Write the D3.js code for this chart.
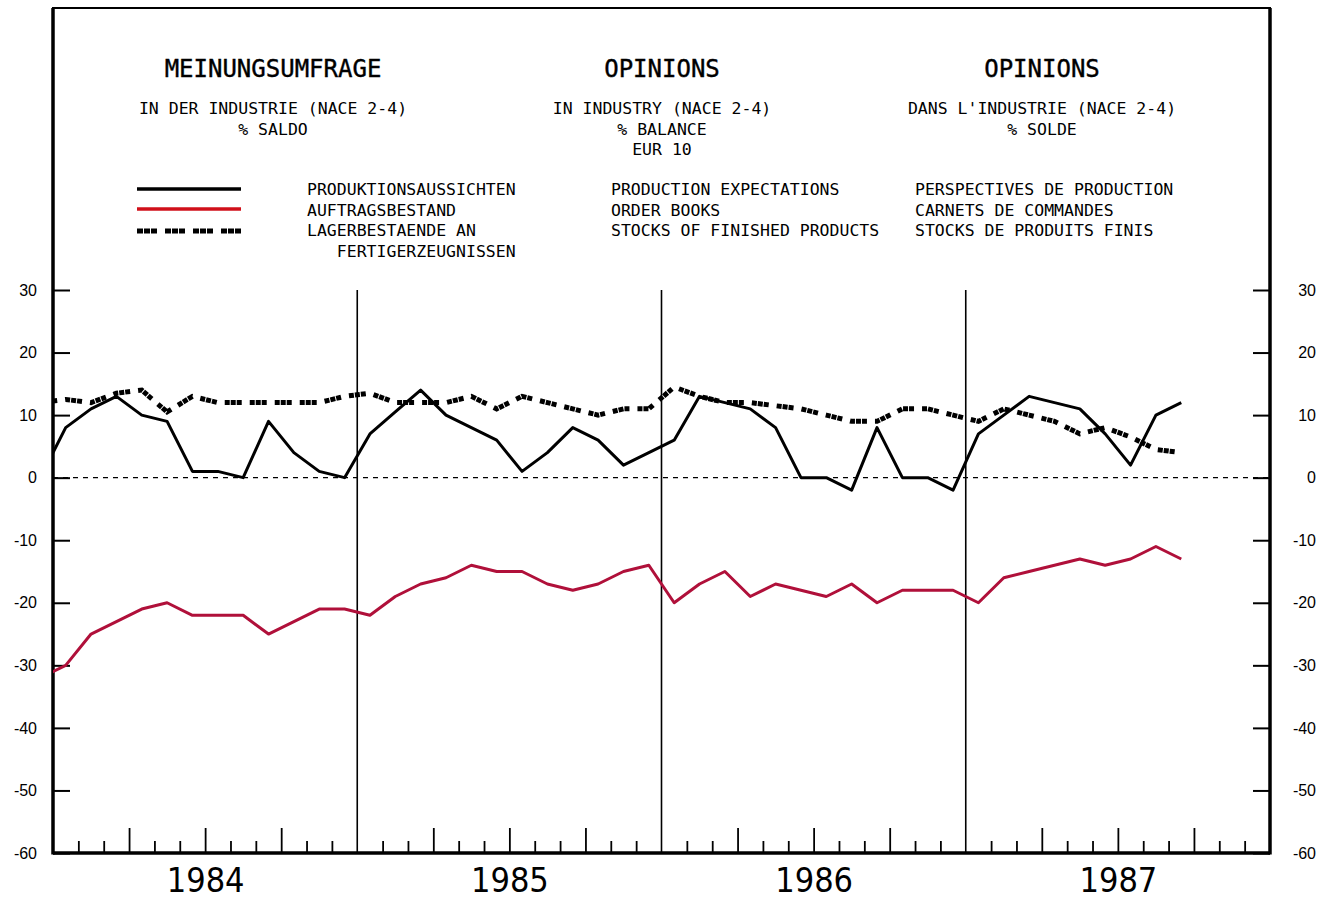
<!DOCTYPE html>
<html>
<head>
<meta charset="utf-8">
<script src="https://cdn.jsdelivr.net/npm/d3@7"></script>
<style>
body { margin: 0; background: #fff; }
.mono { font-family: "DejaVu Sans Mono", monospace; fill: #000; }
.tick text { font-family: "Liberation Sans", "DejaVu Sans", sans-serif; font-size: 16px; fill: #000; }
</style>
</head>
<body>
<div id="chart"></div>
<script>
// month index 0 = Dec 1983, values are monthly balances (%)
var years = ["1984", "1985", "1986", "1987"];
var yTicks = [30, 20, 10, 0, -10, -20, -30, -40, -50, -60];

var production = [0,
  8, 11, 13, 10, 9, 1, 1, 0, 9, 4, 1, 0,
  7, 10.5, 14, 10, 8, 6, 1, 4, 8, 6, 2, 4,
  6, 13, 12, 11, 8, 0, 0, -2, 8, 0, 0, -2,
  7, 10, 13, 12, 11, 7, 2, 10, 12];
var orderBooks = [-32,
  -30, -25, -23, -21, -20, -22, -22, -22, -25, -23, -21, -21,
  -22, -19, -17, -16, -14, -15, -15, -17, -18, -17, -15, -14,
  -20, -17, -15, -19, -17, -18, -19, -17, -20, -18, -18, -18,
  -20, -16, -15, -14, -13, -14, -13, -11, -13];
var stocks = [12,
  12.5, 12, 13.5, 14, 10.5, 13, 12, 12, 12, 12, 12, 13,
  13.5, 12, 12, 12, 13, 11, 13, 12, 11, 10, 11, 11,
  14.5, 13, 12, 12, 11.5, 11, 10, 9, 9, 11, 11, 10,
  9, 11, 10, 9, 7, 8, 6.5, 4.5, 4];

var titles = ["MEINUNGSUMFRAGE", "OPINIONS", "OPINIONS"];
var subtitles = [
  ["IN DER INDUSTRIE (NACE 2-4)", "% SALDO"],
  ["IN INDUSTRY (NACE 2-4)", "% BALANCE", "EUR 10"],
  ["DANS L'INDUSTRIE (NACE 2-4)", "% SOLDE"]];
var legendDe = ["PRODUKTIONSAUSSICHTEN", "AUFTRAGSBESTAND", "LAGERBESTAENDE AN", "   FERTIGERZEUGNISSEN"];
var legendEn = ["PRODUCTION EXPECTATIONS", "ORDER BOOKS", "STOCKS OF FINISHED PRODUCTS"];
var legendFr = ["PERSPECTIVES DE PRODUCTION", "CARNETS DE COMMANDES", "STOCKS DE PRODUITS FINIS"];

var W = 1328, H = 899;
var plotLeft = 53, plotRight = 1270, plotTop = 290, plotBottom = 853, frameTop = 8;
var redColor = "#b0103a";
var stockDash = "5,1,5,1,5,8";

var svg = d3.select("#chart").append("svg")
    .attr("width", W)
    .attr("height", H);

svg.append("rect").attr("width", W).attr("height", H).attr("fill", "#fff");

// months since Jan 1984
var x = d3.scaleLinear().domain([0, 48]).range([plotLeft, plotRight]);
var y = d3.scaleLinear().domain([-60, 30]).range([plotBottom, plotTop]);

// point i of the series sits in the middle of month (i - 1)
function mx(i) { return x(i - 0.5); }

// header texts
var colCenters = [273, 662, 1042];
titles.forEach(function(t, i) {
  svg.append("text").attr("class", "mono")
    .attr("x", colCenters[i]).attr("y", 77)
    .attr("text-anchor", "middle")
    .style("font-size", "24px")
    .style("stroke", "#000").style("stroke-width", "0.4")
    .text(t);
  subtitles[i].forEach(function(s, j) {
    svg.append("text").attr("class", "mono")
      .attr("x", colCenters[i]).attr("y", 114 + j * 20.5)
      .attr("text-anchor", "middle")
      .style("font-size", "16.5px")
      .style("white-space", "pre")
      .text(s);
  });
});

// legend
var legRows = [189, 209, 230];
svg.append("line").attr("x1", 137).attr("x2", 241).attr("y1", legRows[0]).attr("y2", legRows[0])
  .attr("stroke", "#000").attr("stroke-width", 3.5);
svg.append("line").attr("x1", 137).attr("x2", 241).attr("y1", legRows[1]).attr("y2", legRows[1])
  .attr("stroke", "#d0101a").attr("stroke-width", 3.5);
svg.append("line").attr("x1", 137).attr("x2", 241).attr("y1", legRows[2] + 1).attr("y2", legRows[2] + 1)
  .attr("stroke", "#000").attr("stroke-width", 5).attr("stroke-dasharray", "6,1,6,1,6,8");

function legendColumn(lines, x0) {
  lines.forEach(function(s, j) {
    svg.append("text").attr("class", "mono")
      .attr("x", x0).attr("y", 195 + j * 20.5)
      .style("font-size", "16.5px")
      .style("white-space", "pre")
      .text(s);
  });
}
legendColumn(legendDe, 307);
legendColumn(legendEn, 611);
legendColumn(legendFr, 915);

// frame
svg.append("rect")
  .attr("x", plotLeft).attr("y", frameTop)
  .attr("width", plotRight - plotLeft).attr("height", plotBottom - frameTop)
  .attr("fill", "none").attr("stroke", "#000").attr("stroke-width", 2);
svg.append("line").attr("x1", plotLeft).attr("x2", plotLeft).attr("y1", frameTop).attr("y2", plotBottom + 1.5)
  .attr("stroke", "#000").attr("stroke-width", 3.5);
svg.append("line").attr("x1", plotRight).attr("x2", plotRight).attr("y1", frameTop).attr("y2", plotBottom + 1.5)
  .attr("stroke", "#000").attr("stroke-width", 3.5);
svg.append("line").attr("x1", plotLeft).attr("x2", plotRight).attr("y1", plotBottom).attr("y2", plotBottom)
  .attr("stroke", "#000").attr("stroke-width", 3.5);

// y axes
var yl = svg.append("g")
  .attr("transform", "translate(" + plotLeft + ",0)")
  .call(d3.axisLeft(y).tickValues(yTicks).tickSizeInner(-17).tickSizeOuter(0).tickPadding(16)
    .tickFormat(function(d) { return d; }));
yl.select(".domain").remove();
yl.selectAll("line").attr("stroke-width", 2);

var yr = svg.append("g")
  .attr("transform", "translate(" + plotRight + ",0)")
  .call(d3.axisRight(y).tickValues(yTicks).tickSizeInner(-17).tickSizeOuter(0).tickPadding(16)
    .tickFormat(function(d) { return d; }));
yr.select(".domain").remove();
yr.selectAll("line").attr("stroke-width", 2);
yr.selectAll("text").attr("x", 46).style("text-anchor", "end");

// month ticks on the bottom
var monthTicks = d3.range(1, 48).filter(function(m) { return m % 12 != 0; });
var xb = svg.append("g")
  .attr("transform", "translate(0," + plotBottom + ")")
  .call(d3.axisBottom(x).tickValues(monthTicks).tickSizeInner(-12).tickSizeOuter(0).tickFormat(""));
xb.select(".domain").remove();
xb.selectAll("line")
  .attr("stroke-width", 1.8)
  .attr("y2", function(d) { return d % 3 == 0 ? -25 : -12; });

// year labels
var xy = svg.append("g")
  .attr("transform", "translate(0," + plotBottom + ")")
  .call(d3.axisBottom(x).tickValues([6, 18, 30, 42]).tickSize(0)
    .tickFormat(function(d, i) { return years[i]; }));
xy.select(".domain").remove();
xy.selectAll("text")
  .attr("y", 39).attr("dy", 0)
  .style("font-family", "'DejaVu Sans Condensed', 'DejaVu Sans', sans-serif")
  .style("font-size", "34px");

// year separators
svg.selectAll(".yearline")
  .data([12, 24, 36])
  .enter()
  .append("line")
  .attr("class", "yearline")
  .attr("x1", function(d) { return x(d); })
  .attr("x2", function(d) { return x(d); })
  .attr("y1", y(30))
  .attr("y2", y(-60))
  .attr("stroke", "#000")
  .attr("stroke-width", 1.6);

// zero line
svg.append("line")
  .attr("x1", plotLeft).attr("x2", plotRight)
  .attr("y1", y(0)).attr("y2", y(0))
  .attr("stroke", "#000").attr("stroke-width", 1.3)
  .attr("stroke-dasharray", "5,5");

// series
svg.append("clipPath").attr("id", "plotclip")
  .append("rect").attr("x", plotLeft).attr("y", frameTop)
  .attr("width", plotRight - plotLeft).attr("height", plotBottom - frameTop);

var line = d3.line()
  .x(function(d, i) { return mx(i); })
  .y(function(d) { return y(d); });

var plot = svg.append("g").attr("clip-path", "url(#plotclip)");

plot.append("path").datum(stocks)
  .attr("d", line)
  .attr("fill", "none")
  .attr("stroke", "#000")
  .attr("stroke-width", 5)
  .attr("stroke-dasharray", stockDash);

plot.append("path").datum(orderBooks)
  .attr("d", line)
  .attr("fill", "none")
  .attr("stroke", redColor)
  .attr("stroke-width", 3)
  .attr("stroke-linejoin", "round");

plot.append("path").datum(production)
  .attr("d", line)
  .attr("fill", "none")
  .attr("stroke", "#000")
  .attr("stroke-width", 3)
  .attr("stroke-linejoin", "round");
</script>
</body>
</html>
